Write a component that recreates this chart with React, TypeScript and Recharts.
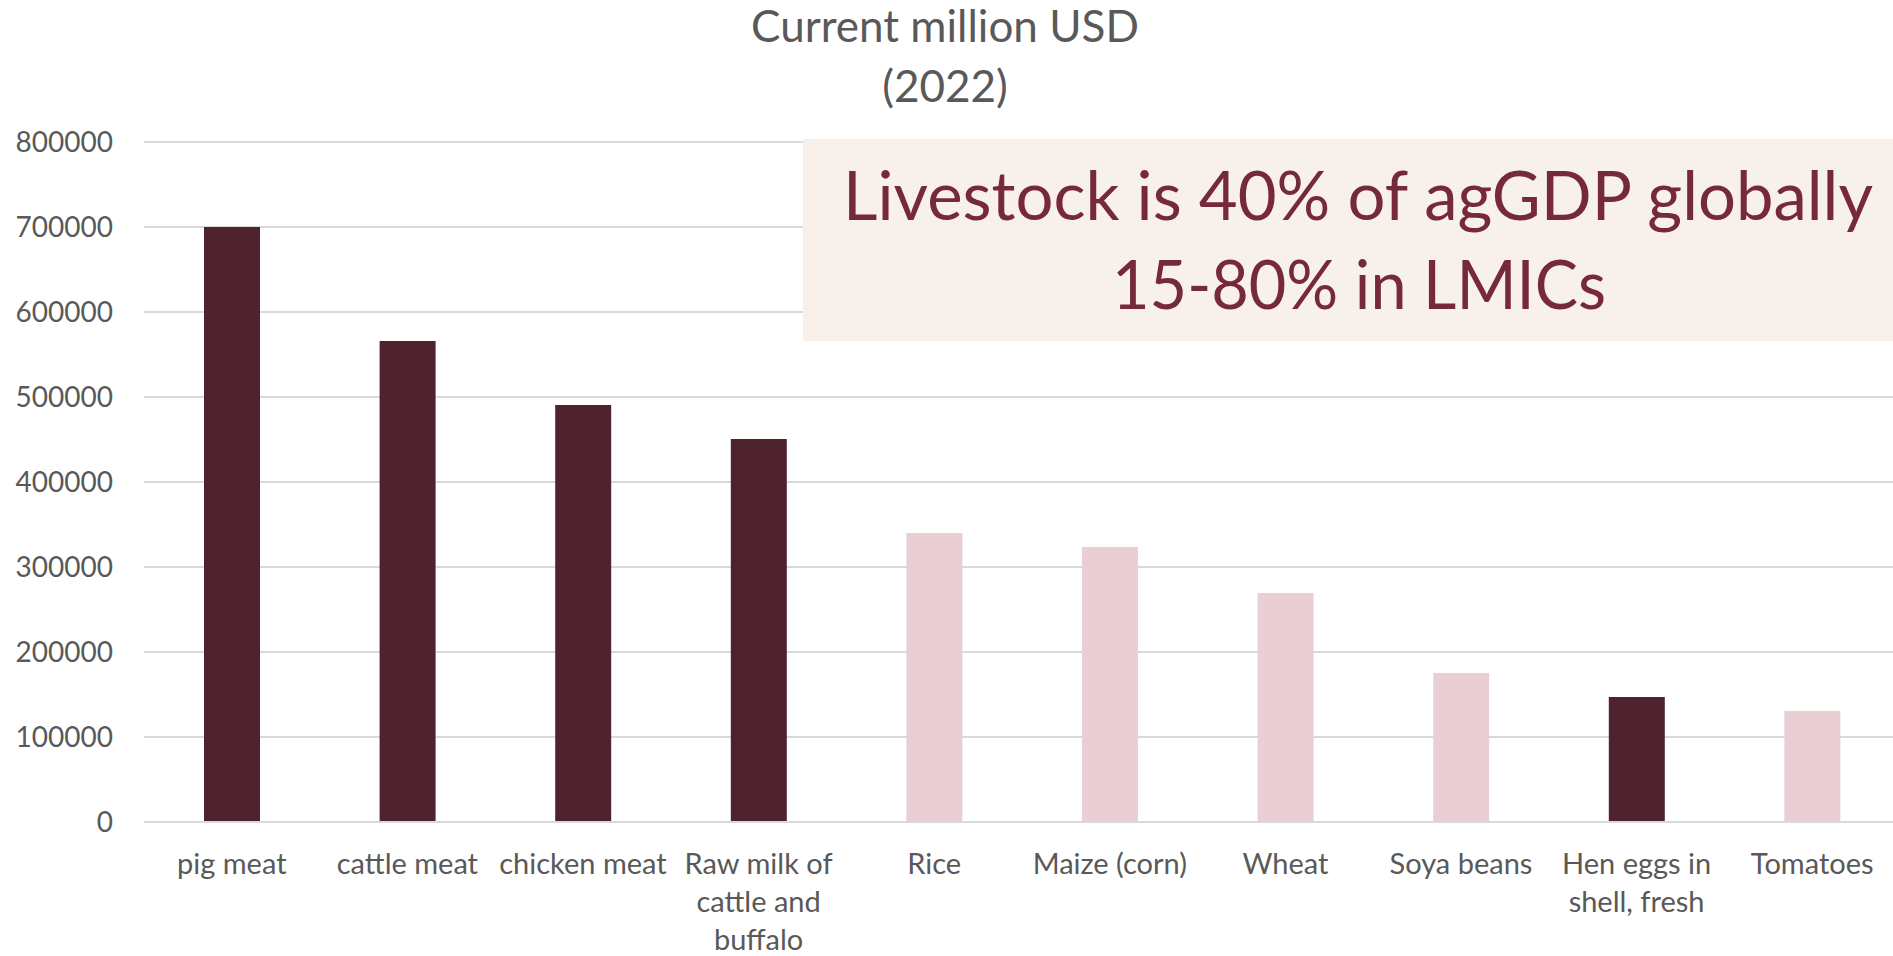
import React from 'react';
import { BarChart, Bar, XAxis, YAxis, CartesianGrid, Cell } from 'recharts';

const categories = [
  'pig meat',
  'cattle meat',
  'chicken meat',
  'Raw milk of cattle and buffalo',
  'Rice',
  'Maize (corn)',
  'Wheat',
  'Soya beans',
  'Hen eggs in shell, fresh',
  'Tomatoes',
];
const values = [700000, 566000, 490500, 450600, 340000, 323500, 269400, 175300, 147000, 130600];
const isLivestock = [true, true, true, true, false, false, false, false, true, false];
const tickLabelLines = [
  ['pig meat'],
  ['cattle meat'],
  ['chicken meat'],
  ['Raw milk of', 'cattle and', 'buffalo'],
  ['Rice'],
  ['Maize (corn)'],
  ['Wheat'],
  ['Soya beans'],
  ['Hen eggs in', 'shell, fresh'],
  ['Tomatoes'],
];
const yTicks = [0, 100000, 200000, 300000, 400000, 500000, 600000, 700000, 800000];
const titleLines = ['Current million USD', '(2022)'];
const noteLines = ['Livestock is 40% of agGDP globally', '15-80% in LMICs'];

const LIVESTOCK_COLOR = '#4F232E';
const CROP_COLOR = '#E9CFD4';
const FONT = 'Lato, "Open Sans", sans-serif';

const data = categories.map((c, i) => ({ name: c, value: values[i], livestock: isLivestock[i] }));

const XTick = (props: any) => {
  const { x, y, payload } = props;
  const idx = categories.indexOf(payload.value);
  const lines = idx >= 0 ? tickLabelLines[idx] : [String(payload.value)];
  return (
    <text x={x} y={y} textAnchor="middle" fill="#595959" fontSize={29} fontFamily={FONT}>
      {lines.map((l: string, i: number) => (
        <tspan key={i} x={x} y={y + 52 + i * 38}>
          {l}
        </tspan>
      ))}
    </text>
  );
};

export default function App() {
  return (
    <div
      style={{
        position: 'absolute',
        left: 0,
        top: 0,
        width: 1893,
        height: 956,
        overflow: 'hidden',
        background: '#ffffff',
      }}
    >
      <BarChart
        width={1900}
        height={956}
        data={data}
        margin={{ top: 142, right: 0, bottom: 0, left: 0 }}
      >
        <CartesianGrid vertical={false} stroke="#D9D9D9" strokeWidth={2} />
        <XAxis
          dataKey="name"
          height={134}
          axisLine={{ stroke: '#D9D9D9', strokeWidth: 2 }}
          tickLine={false}
          tickSize={0}
          tickMargin={0}
          interval={0}
          tick={<XTick />}
        />
        <YAxis
          width={144}
          domain={[0, 800000]}
          ticks={yTicks}
          axisLine={false}
          tickLine={false}
          tickSize={0}
          tickMargin={31}
          tick={{ fill: '#595959', fontSize: 28, fontFamily: FONT }}
        />
        <Bar dataKey="value" barSize={56} isAnimationActive={false}>
          {data.map((d, i) => (
            <Cell key={i} fill={d.livestock ? LIVESTOCK_COLOR : CROP_COLOR} />
          ))}
        </Bar>
      </BarChart>
      <svg
        width={1893}
        height={956}
        style={{ position: 'absolute', left: 0, top: 0, pointerEvents: 'none' }}
      >
        <text x={945} y={42} textAnchor="middle" fill="#595959" fontSize={44} fontFamily={FONT}>
          {titleLines[0]}
        </text>
        <text x={945} y={102} textAnchor="middle" fill="#595959" fontSize={44} fontFamily={FONT}>
          {titleLines[1]}
        </text>
        <rect x={803} y={139} width={1110} height={202} fill="#F8F0EA" />
        <text
          x={1358}
          y={220}
          textAnchor="middle"
          fill="#76283C"
          fontSize={67}
          fontFamily={FONT}
          textLength={1030}
          lengthAdjust="spacingAndGlyphs"
        >
          {noteLines[0]}
        </text>
        <text
          x={1359}
          y={309}
          textAnchor="middle"
          fill="#76283C"
          fontSize={67}
          fontFamily={FONT}
          textLength={494}
          lengthAdjust="spacingAndGlyphs"
        >
          {noteLines[1]}
        </text>
      </svg>
    </div>
  );
}
